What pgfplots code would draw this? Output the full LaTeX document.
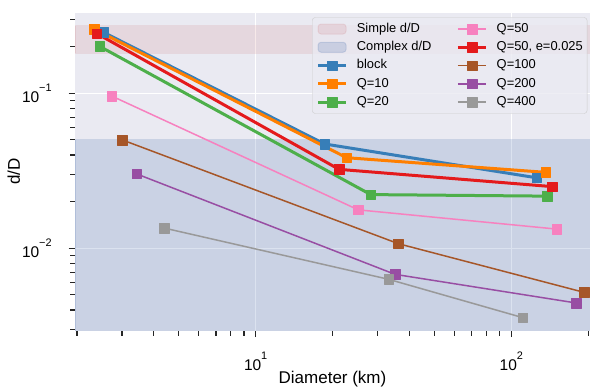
\documentclass[border=0pt]{standalone}
\usepackage{fontspec}
\setmainfont{Liberation Sans}
\usepackage{pgfplots}
\pgfplotsset{compat=1.18}
\definecolor{bgc}{HTML}{EAEAF2}
\definecolor{cblock}{HTML}{377EB8}
\definecolor{cqten}{HTML}{FF7F00}
\definecolor{cqtwenty}{HTML}{4DAF4A}
\definecolor{cqfifty}{HTML}{F781BF}
\definecolor{cqfiftye}{HTML}{E41A1C}
\definecolor{cqhund}{HTML}{A65628}
\definecolor{cqtwohund}{HTML}{984EA3}
\definecolor{cqfourhund}{HTML}{999999}
\definecolor{simplec}{RGB}{196,78,82}
\definecolor{complexc}{RGB}{76,114,176}
\definecolor{legedge}{HTML}{CCCCCC}
\definecolor{tickc}{HTML}{262626}
\newcommand{\sups}[1]{\raisebox{0.72em}{\fontsize{10.9}{11}\selectfont #1}}
\pgfplotsset{
  legend image code/.code={\draw[mark repeat=2,mark phase=2,fill opacity=1,draw opacity=1,#1] plot coordinates {(0pt,0pt) (14pt,0pt) (28pt,0pt)};},
  ser/.style={#1, mark=square*, mark size=4.8pt, mark options={solid, fill=#1, draw=#1, line width=0.4pt}, line join=round},
}
\begin{document}
\begin{tikzpicture}
\begin{axis}[
  scale only axis, width=515pt, height=318pt,
  xmode=log, ymode=log,
  xmin=1.965, xmax=203.2, ymin=0.00294, ymax=0.331,
  axis background/.style={fill=bgc},
  axis line style={draw=none},
  grid=major, major grid style={white, line width=1.2pt},
  xtick={10,100}, xticklabels={10\sups{1},10\sups{2}},
  minor xtick={2,3,4,5,6,7,8,9,20,30,40,50,60,70,80,90,200},
  ytick={0.01,0.1}, yticklabels={10\sups{−2},10\sups{−1}},
  minor ytick={0.003,0.004,0.005,0.006,0.007,0.008,0.009,0.02,0.03,0.04,0.05,0.06,0.07,0.08,0.09,0.2,0.3},
  tick align=outside, tick pos=left,
  major tick length=6.5pt, minor tick length=5pt,
  tick style={tickc, line width=1.1pt},
  tick label style={font=\fontsize{15.5}{17}\selectfont},
  xticklabel style={anchor=base, yshift=-33.6pt},
  yticklabel style={anchor=base east, xshift=-13.3pt, yshift=-9.5pt},
  xlabel={Diameter (km)},
  xlabel style={at={(axis description cs:0.5,-0.166)}, anchor=base, font=\fontsize{17}{20}\selectfont},
  ylabel={d/D},
  ylabel style={at={(axis description cs:-0.1068,0.5)}, anchor=base, font=\fontsize{17}{20}\selectfont},
  legend columns=2, legend cell align=left,
  legend style={at={(axis description cs:1,1)}, anchor=north east, xshift=-2.7pt, yshift=-4.6pt,
    fill=bgc, fill opacity=0.8, text opacity=1, draw=legedge, draw opacity=1, rounded corners=3pt,
    font=\fontsize{12.9}{14}\selectfont,
    inner xsep=4.3pt, inner ysep=5.5pt, row sep=6.25pt,
    nodes={inner sep=0pt, text height=9.3pt, text depth=2.7pt, fill opacity=1, text opacity=1},
    /tikz/every odd column/.style={column sep=9.3pt},
    /tikz/every even column/.style={column sep=25pt}},
]
% bands
\addplot[fill=simplec, draw=simplec, fill opacity=0.12, draw opacity=0.12, line width=1pt, forget plot]
  coordinates {(1.965,0.181) (203.2,0.181) (203.2,0.272) (1.965,0.272)} -- cycle;
\addplot[fill=complexc, draw=complexc, fill opacity=0.2, draw opacity=0.2, line width=1pt, forget plot]
  coordinates {(1.965,0.001) (203.2,0.001) (203.2,0.05) (1.965,0.05)} -- cycle;
% series
\addplot[ser=cblock, line width=3pt, forget plot] coordinates {(2.53,0.248) (18.6,0.0471) (125.6,0.0285)};
\addplot[ser=cqten, line width=3pt, forget plot] coordinates {(2.34,0.259) (22.7,0.0384) (136.4,0.0309)};
\addplot[ser=cqtwenty, line width=3pt, forget plot] coordinates {(2.45,0.201) (28.2,0.0222) (138.4,0.0217)};
\addplot[ser=cqfifty, line width=1.5pt, forget plot] coordinates {(2.73,0.0961) (25.2,0.0177) (150.6,0.0133)};
\addplot[ser=cqfiftye, line width=3pt, forget plot] coordinates {(2.39,0.243) (21.2,0.0323) (144.5,0.0250)};
\addplot[ser=cqhund, line width=1.5pt, forget plot] coordinates {(3.01,0.050) (36.2,0.0107) (192.4,0.0052)};
\addplot[ser=cqtwohund, line width=1.5pt, forget plot] coordinates {(3.42,0.0302) (35.1,0.00679) (179,0.00444)};
\addplot[ser=cqfourhund, line width=1.5pt, forget plot] coordinates {(4.39,0.0135) (33.1,0.00631) (110.9,0.00357)};
% legend (row-wise order to mimic column-wise fill)
\addlegendimage{legend image code/.code={\draw[fill=simplec,draw=simplec,fill opacity=0.12,draw opacity=0.12,line width=1pt] (0pt,-5pt) rectangle (28pt,5pt);}}
\addlegendentry{Simple d/D}
\addlegendimage{ser=cqfifty, line width=1.5pt}
\addlegendentry{Q=50}
\addlegendimage{legend image code/.code={\draw[fill=complexc,draw=complexc,fill opacity=0.2,draw opacity=0.2,line width=1pt] (0pt,-5pt) rectangle (28pt,5pt);}}
\addlegendentry{Complex d/D}
\addlegendimage{ser=cqfiftye, line width=3pt}
\addlegendentry{Q=50, e=0.025}
\addlegendimage{ser=cblock, line width=3pt}
\addlegendentry{block}
\addlegendimage{ser=cqhund, line width=1.5pt}
\addlegendentry{Q=100}
\addlegendimage{ser=cqten, line width=3pt}
\addlegendentry{Q=10}
\addlegendimage{ser=cqtwohund, line width=1.5pt}
\addlegendentry{Q=200}
\addlegendimage{ser=cqtwenty, line width=3pt}
\addlegendentry{Q=20}
\addlegendimage{ser=cqfourhund, line width=1.5pt}
\addlegendentry{Q=400}
\end{axis}
\pgfresetboundingbox
\path[use as bounding box] ([xshift=-75pt,yshift=-56.3pt]current axis.south west) rectangle ([yshift=12.7pt]current axis.north east);
\end{tikzpicture}
\end{document}
